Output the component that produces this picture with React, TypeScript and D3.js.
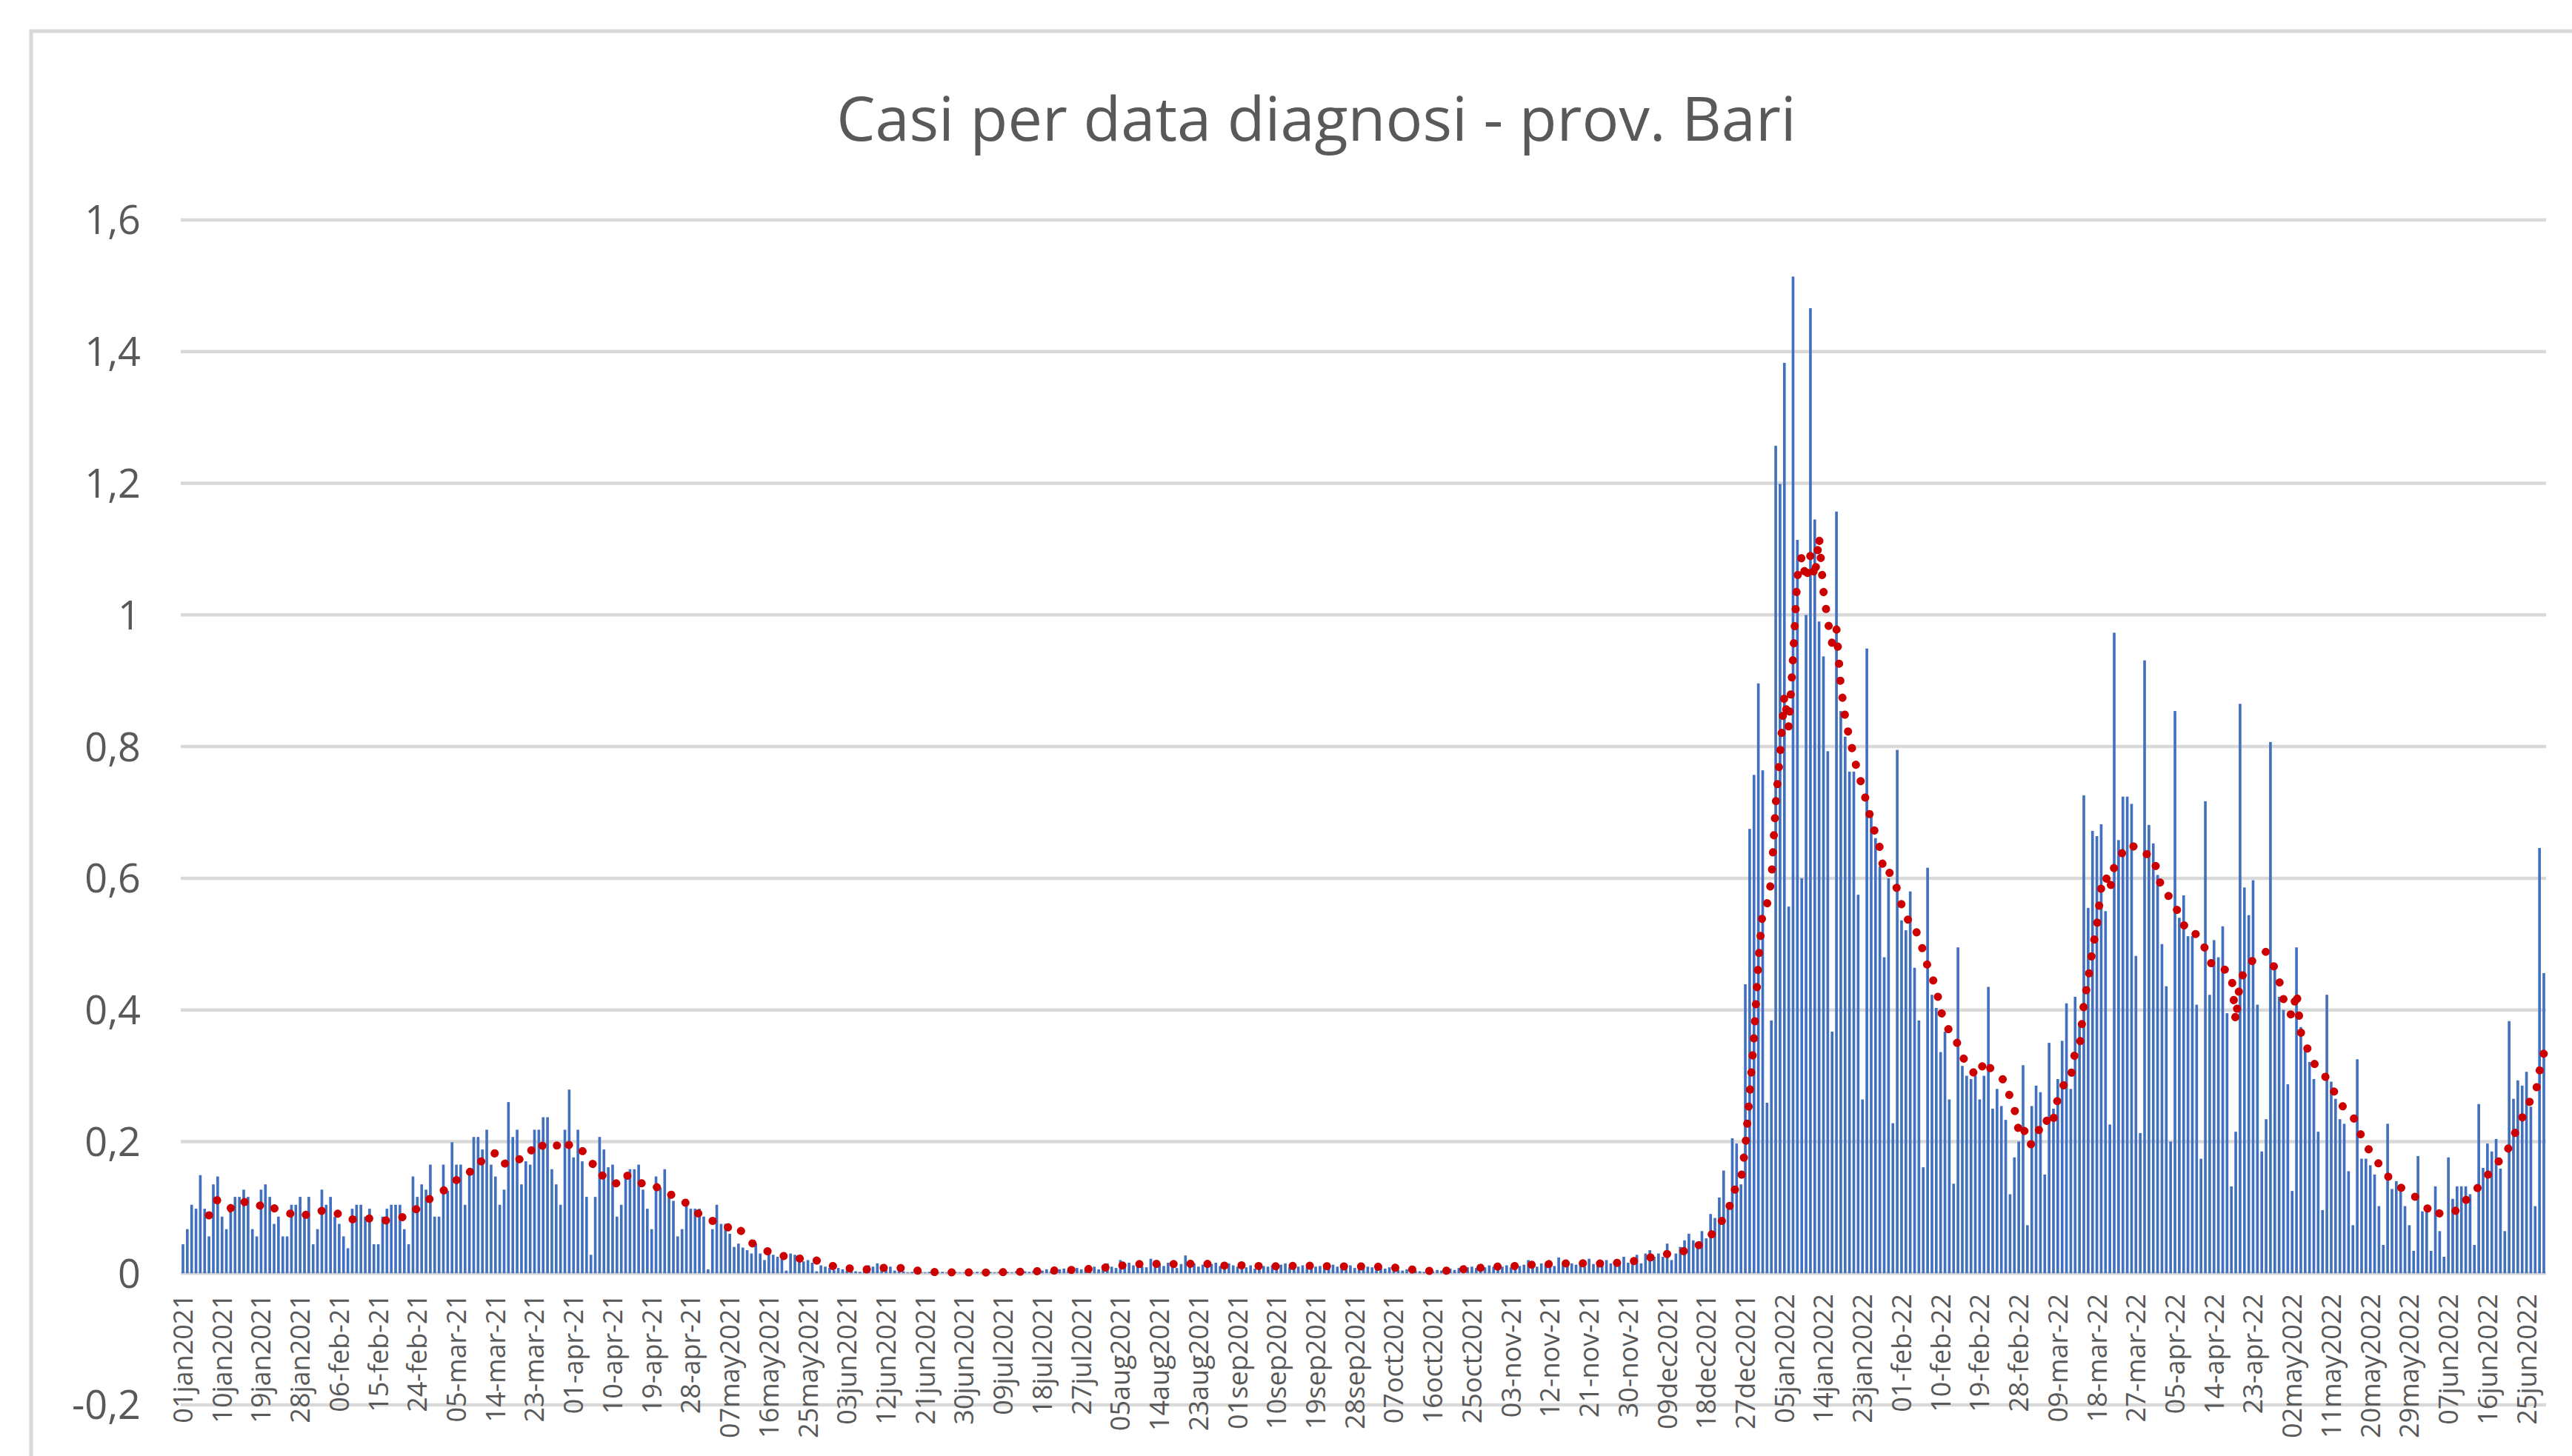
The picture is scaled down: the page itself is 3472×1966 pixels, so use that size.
import React, { useRef, useEffect } from 'react';
import * as d3 from 'd3';

// daily values, one array per month (01jan2021 .. 29jun2022)
const jan21 = [0.044, 0.067, 0.104, 0.098, 0.149, 0.098, 0.056, 0.135, 0.147, 0.086, 0.067, 0.104, 0.116, 0.116, 0.127, 0.116, 0.067, 0.056, 0.127, 0.135, 0.116, 0.075, 0.086, 0.056, 0.056, 0.104, 0.104, 0.116, 0.09, 0.116, 0.044];
const feb21 = [0.067, 0.127, 0.104, 0.116, 0.086, 0.075, 0.056, 0.038, 0.098, 0.104, 0.104, 0.086, 0.098, 0.044, 0.044, 0.086, 0.098, 0.104, 0.104, 0.104, 0.067, 0.044, 0.147, 0.116, 0.135, 0.127, 0.165, 0.086];
const mar21 = [0.086, 0.165, 0.125, 0.199, 0.165, 0.165, 0.104, 0.15, 0.207, 0.207, 0.188, 0.218, 0.165, 0.147, 0.104, 0.127, 0.26, 0.207, 0.218, 0.135, 0.17, 0.165, 0.218, 0.218, 0.237, 0.237, 0.158, 0.135, 0.104, 0.218, 0.279];
const apr21 = [0.176, 0.218, 0.17, 0.116, 0.028, 0.116, 0.207, 0.188, 0.161, 0.165, 0.086, 0.104, 0.147, 0.158, 0.158, 0.165, 0.127, 0.098, 0.067, 0.147, 0.13, 0.158, 0.116, 0.11, 0.056, 0.067, 0.104, 0.098, 0.098, 0.098];
const may21 = [0.086, 0.006, 0.067, 0.104, 0.075, 0.075, 0.06, 0.04, 0.045, 0.039, 0.035, 0.03, 0.045, 0.03, 0.02, 0.03, 0.028, 0.025, 0.022, 0.004, 0.03, 0.028, 0.02, 0.018, 0.02, 0.016, 0.003, 0.012, 0.01, 0.008, 0.005];
const jun21 = [0.008, 0.006, 0.004, 0.01, 0.003, 0.002, 0.006, 0.012, 0.01, 0.015, 0.008, 0.005, 0.01, 0.004, 0.006, 0.003, 0.001, 0.002, 0.004, 0.002, 0.001, 0.002, 0.001, 0.001, 0.002, 0.001, 0.001, 0.002, 0.001, 0.001];
const jul21 = [0.001, 0.001, 0.002, 0.001, 0.001, 0.002, 0.001, 0.002, 0.003, 0.002, 0.001, 0.003, 0.004, 0.003, 0.002, 0.004, 0.005, 0.004, 0.006, 0.003, 0.005, 0.006, 0.007, 0.005, 0.004, 0.008, 0.006, 0.007, 0.008, 0.01, 0.006];
const aug21 = [0.012, 0.015, 0.01, 0.008, 0.02, 0.014, 0.016, 0.012, 0.018, 0.01, 0.009, 0.022, 0.013, 0.015, 0.011, 0.016, 0.012, 0.008, 0.014, 0.027, 0.012, 0.015, 0.01, 0.013, 0.009, 0.014, 0.016, 0.011, 0.008, 0.015, 0.012];
const sep21 = [0.01, 0.013, 0.009, 0.012, 0.007, 0.014, 0.011, 0.01, 0.012, 0.008, 0.013, 0.015, 0.009, 0.011, 0.01, 0.012, 0.009, 0.014, 0.01, 0.011, 0.008, 0.012, 0.013, 0.01, 0.009, 0.011, 0.012, 0.008, 0.01, 0.011];
const oct21 = [0.01, 0.009, 0.011, 0.008, 0.007, 0.009, 0.006, 0.005, 0.004, 0.006, 0.003, 0.004, 0.003, 0.002, 0.004, 0.003, 0.005, 0.004, 0.006, 0.007, 0.005, 0.008, 0.007, 0.009, 0.01, 0.008, 0.011, 0.009, 0.012, 0.01, 0.011];
const nov21 = [0.01, 0.012, 0.009, 0.014, 0.011, 0.013, 0.02, 0.012, 0.01, 0.015, 0.013, 0.016, 0.011, 0.024, 0.014, 0.012, 0.015, 0.013, 0.017, 0.01, 0.022, 0.014, 0.012, 0.016, 0.02, 0.015, 0.013, 0.018, 0.025, 0.016];
const dec21 = [0.02, 0.028, 0.015, 0.03, 0.035, 0.025, 0.03, 0.025, 0.045, 0.02, 0.03, 0.04, 0.05, 0.06, 0.05, 0.038, 0.064, 0.053, 0.09, 0.084, 0.115, 0.156, 0.1, 0.205, 0.197, 0.135, 0.439, 0.675, 0.757, 0.896, 0.764];
const jan22 = [0.259, 0.384, 1.257, 1.199, 1.383, 0.557, 1.514, 1.114, 0.6, 1.0, 1.466, 1.145, 0.99, 0.937, 0.793, 0.367, 1.157, 0.854, 0.815, 0.762, 0.762, 0.575, 0.264, 0.949, 0.694, 0.661, 0.618, 0.48, 0.6, 0.228, 0.795];
const feb22 = [0.536, 0.521, 0.58, 0.464, 0.384, 0.161, 0.616, 0.423, 0.403, 0.336, 0.367, 0.264, 0.136, 0.495, 0.315, 0.3, 0.295, 0.3, 0.264, 0.3, 0.435, 0.25, 0.28, 0.254, 0.233, 0.12, 0.176, 0.2];
const mar22 = [0.316, 0.073, 0.254, 0.285, 0.275, 0.15, 0.35, 0.25, 0.295, 0.353, 0.41, 0.28, 0.42, 0.38, 0.726, 0.555, 0.672, 0.664, 0.682, 0.55, 0.226, 0.973, 0.658, 0.724, 0.724, 0.713, 0.482, 0.213, 0.931, 0.681, 0.653];
const apr22 = [0.605, 0.5, 0.436, 0.2, 0.854, 0.54, 0.574, 0.512, 0.512, 0.408, 0.174, 0.717, 0.423, 0.506, 0.48, 0.527, 0.395, 0.132, 0.215, 0.865, 0.586, 0.544, 0.597, 0.408, 0.185, 0.234, 0.807, 0.461, 0.42, 0.4];
const may22 = [0.287, 0.125, 0.495, 0.374, 0.34, 0.321, 0.295, 0.215, 0.096, 0.423, 0.291, 0.265, 0.234, 0.227, 0.155, 0.073, 0.325, 0.174, 0.174, 0.164, 0.15, 0.102, 0.043, 0.227, 0.128, 0.14, 0.125, 0.102, 0.073, 0.034, 0.178];
const jun22 = [0.094, 0.1, 0.034, 0.132, 0.064, 0.025, 0.176, 0.113, 0.132, 0.132, 0.132, 0.12, 0.043, 0.257, 0.16, 0.197, 0.185, 0.204, 0.159, 0.064, 0.383, 0.265, 0.293, 0.285, 0.306, 0.253, 0.102, 0.646, 0.456];

// category labels shown every 9 days, as printed on the axis
const tickLabels = [
  '01jan2021', '10jan2021', '19jan2021', '28jan2021', '06-feb-21', '15-feb-21', '24-feb-21',
  '05-mar-21', '14-mar-21', '23-mar-21', '01-apr-21', '10-apr-21', '19-apr-21', '28-apr-21',
  '07may2021', '16may2021', '25may2021', '03jun2021', '12jun2021', '21jun2021', '30jun2021',
  '09jul2021', '18jul2021', '27jul2021', '05aug2021', '14aug2021', '23aug2021', '01sep2021',
  '10sep2021', '19sep2021', '28sep2021', '07oct2021', '16oct2021', '25oct2021', '03-nov-21',
  '12-nov-21', '21-nov-21', '30-nov-21', '09dec2021', '18dec2021', '27dec2021', '05jan2022',
  '14jan2022', '23jan2022', '01-feb-22', '10-feb-22', '19-feb-22', '28-feb-22', '09-mar-22',
  '18-mar-22', '27-mar-22', '05-apr-22', '14-apr-22', '23-apr-22', '02may2022', '11may2022',
  '20may2022', '29may2022', '07jun2022', '16jun2022', '25jun2022'
];
const tickStep = 9;
const yTicks = [-0.2, 0, 0.2, 0.4, 0.6, 0.8, 1, 1.2, 1.4, 1.6];
const maPeriod = 7;

const title = 'Casi per data diagnosi - prov. Bari';

const values = [
  ...jan21, ...feb21, ...mar21, ...apr21, ...may21, ...jun21, ...jul21, ...aug21, ...sep21,
  ...oct21, ...nov21, ...dec21, ...jan22, ...feb22, ...mar22, ...apr22, ...may22, ...jun22
];

const WIDTH = 3472;
const HEIGHT = 1966;
const FONT = "'Open Sans', sans-serif";
const TEXT = '#595959';
const GRID = '#D9D9D9';

// Excel-style trailing moving average trendline
function movingAverage(v: number[], period: number) {
  const out: Array<{ i: number; v: number }> = [];
  for (let i = period - 1; i < v.length; i++) {
    out.push({ i, v: d3.mean(v.slice(i - period + 1, i + 1)) as number });
  }
  return out;
}

export default function App() {
  const svgRef = useRef<SVGSVGElement>(null);

  useEffect(() => {
    if (!svgRef.current) return;
    document.body.style.margin = '0';
    document.body.style.overflow = 'hidden';

    const svg = d3.select(svgRef.current);
    svg.selectAll('*').remove();

    const plot = { left: 244, right: 3437, top: 297, bottom: 1897 };

    const x = d3.scaleBand<number>()
      .domain(d3.range(values.length))
      .range([plot.left, plot.right])
      .paddingInner(0.38)
      .paddingOuter(0.2);

    const y = d3.scaleLinear()
      .domain([-0.2, 1.6])
      .range([plot.bottom, plot.top]);

    const it = d3.formatLocale({
      decimal: ',', thousands: '.', grouping: [3], currency: ['', '€'], minus: '-'
    });
    const fmt = it.format('.1~f');

    // chart frame (runs past the right and bottom edges of the picture)
    svg.append('rect')
      .attr('x', 42).attr('y', 42)
      .attr('width', 3600).attr('height', 2100)
      .attr('fill', '#fff')
      .attr('stroke', GRID)
      .attr('stroke-width', 5);

    // title
    svg.append('text')
      .attr('x', 1777).attr('y', 190)
      .attr('text-anchor', 'middle')
      .attr('font-family', FONT)
      .attr('font-size', 83)
      .attr('fill', TEXT)
      .text(title);

    // gridlines
    svg.append('g')
      .selectAll('line')
      .data(yTicks)
      .enter()
      .append('line')
      .attr('x1', plot.left).attr('x2', plot.right)
      .attr('y1', d => y(d)).attr('y2', d => y(d))
      .attr('stroke', GRID)
      .attr('stroke-width', 4.5);

    // y labels
    svg.append('g')
      .selectAll('text')
      .data(yTicks)
      .enter()
      .append('text')
      .attr('x', 190)
      .attr('y', d => y(d))
      .attr('dy', '0.36em')
      .attr('text-anchor', 'end')
      .attr('font-family', FONT)
      .attr('font-size', 54)
      .attr('fill', TEXT)
      .text(d => fmt(d));

    // bars
    svg.append('g')
      .selectAll('rect')
      .data(values)
      .enter()
      .append('rect')
      .attr('x', (_d, i) => x(i) as number)
      .attr('width', x.bandwidth())
      .attr('y', d => y(Math.max(0, d)))
      .attr('height', d => Math.abs(y(d) - y(0)))
      .attr('fill', '#4170BE');

    // x labels, rotated
    svg.append('g')
      .selectAll('text')
      .data(tickLabels)
      .enter()
      .append('text')
      .attr('transform', (_d, k) => {
        const cx = (x(k * tickStep) as number) + x.bandwidth() / 2;
        return `translate(${cx},1747) rotate(-90)`;
      })
      .attr('dy', '0.36em')
      .attr('text-anchor', 'end')
      .attr('font-family', FONT)
      .attr('font-size', 36)
      .attr('fill', TEXT)
      .text(d => d);

    // moving average trendline, round-dot style
    const ma = movingAverage(values, maPeriod);
    const line = d3.line<{ i: number; v: number }>()
      .x(d => (x(d.i) as number) + x.bandwidth() / 2)
      .y(d => y(d.v));

    svg.append('path')
      .datum(ma)
      .attr('d', line)
      .attr('fill', 'none')
      .attr('stroke', '#CC0000')
      .attr('stroke-width', 11)
      .attr('stroke-linecap', 'round')
      .attr('stroke-dasharray', '0.1 23');
  }, []);

  return <svg ref={svgRef} width={WIDTH} height={HEIGHT} style={{ display: 'block' }} />;
}
